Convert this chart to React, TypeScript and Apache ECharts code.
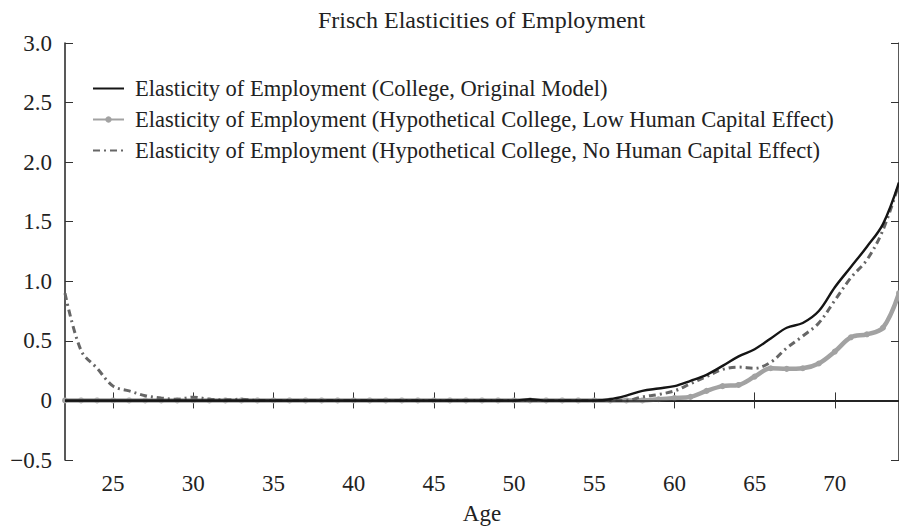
import React, { useEffect, useRef } from "react";
import * as echarts from "echarts";

const ages = [22, 23, 24, 25, 26, 27, 28, 29, 30, 31, 32, 33, 34, 35, 36, 37, 38, 39, 40, 41, 42, 43, 44, 45, 46, 47, 48, 49, 50, 51, 52, 53, 54, 55, 56, 57, 58, 59, 60, 61, 62, 63, 64, 65, 66, 67, 68, 69, 70, 71, 72, 73, 74];

const collegeOriginal = [0, 0, 0, 0, 0, 0, 0, 0, 0, 0, 0, 0, 0, 0, 0, 0, 0, 0, 0, 0, 0, 0, 0, 0, 0, 0, 0, 0, 0, 0.01, 0, 0, 0, 0, 0.01, 0.04, 0.08, 0.1, 0.12, 0.165, 0.215, 0.29, 0.37, 0.43, 0.52, 0.61, 0.65, 0.75, 0.95, 1.12, 1.29, 1.48, 1.83];

const lowHumanCapital = [0, 0, 0, 0, 0, 0, 0, 0, 0, 0, 0, 0, 0, 0, 0, 0, 0, 0, 0, 0, 0, 0, 0, 0, 0, 0, 0, 0, 0, 0, 0, 0, 0, 0, 0, 0, 0, 0.01, 0.02, 0.03, 0.08, 0.12, 0.13, 0.2, 0.27, 0.265, 0.27, 0.31, 0.41, 0.53, 0.555, 0.61, 0.9];

const noHumanCapital = [0.9, 0.42, 0.27, 0.12, 0.08, 0.04, 0.02, 0.01, 0.027, 0.01, 0.005, 0.01, 0, 0, 0, 0, 0, 0, 0, 0, 0, 0, 0, 0, 0, 0, 0, 0, 0, 0, 0, 0, 0, 0, 0, 0, 0.03, 0.05, 0.08, 0.14, 0.2, 0.26, 0.28, 0.27, 0.32, 0.44, 0.54, 0.65, 0.84, 1.03, 1.18, 1.43, 1.82];

const xTicks = [25, 30, 35, 40, 45, 50, 55, 60, 65, 70];

const seriesNames = [
  "Elasticity of Employment (College, Original Model)",
  "Elasticity of Employment (Hypothetical College, Low Human Capital Effect)",
  "Elasticity of Employment (Hypothetical College, No Human Capital Effect)",
];

const FONT = "'Liberation Serif', 'Times New Roman', serif";

export default function App() {
  const ref = useRef<HTMLDivElement>(null);

  useEffect(() => {
    if (!ref.current) return;
    const chart = echarts.init(ref.current, undefined, { renderer: "svg" });
    const pair = (vals: number[]) => ages.map((a, i) => [a, vals[i]]);
    const axisLine = { show: true, lineStyle: { color: "#222", width: 1.5 } };
    const tick = { show: true, inside: true, length: 8, lineStyle: { color: "#333", width: 1 } };

    chart.setOption({
      animation: false,
      backgroundColor: "#fff",
      title: {
        text: "Frisch Elasticities of Employment",
        left: 318,
        top: 8,
        padding: 0,
        textStyle: { fontFamily: FONT, fontSize: 24, fontWeight: "normal", color: "#222" },
      },
      legend: {
        left: 92,
        top: 77,
        orient: "vertical",
        itemWidth: 31,
        itemHeight: 8,
        itemGap: 8,
        padding: 0,
        data: [
          { name: seriesNames[0], itemStyle: { opacity: 0 } },
          { name: seriesNames[1] },
          { name: seriesNames[2], itemStyle: { opacity: 0 } },
        ],
        textStyle: { fontFamily: FONT, fontSize: 22.5, color: "#222", padding: [0, 0, 0, 6] },
      },
      grid: { left: 65, right: -4, top: 43, bottom: 66, containLabel: false },
      xAxis: [
        {
          type: "value",
          min: 22,
          max: 74,
          position: "bottom",
          name: "Age",
          nameLocation: "middle",
          nameGap: 42,
          nameTextStyle: { fontFamily: FONT, fontSize: 23, color: "#222" },
          axisLine,
          axisTick: { ...tick, customValues: xTicks },
          axisLabel: {
            customValues: xTicks,
            margin: 12,
            fontFamily: FONT,
            fontSize: 23,
            color: "#222",
          },
          splitLine: { show: false },
        },
        {
          type: "value",
          min: 22,
          max: 74,
          position: "top",
          axisLine,
          axisTick: { ...tick, customValues: xTicks },
          axisLabel: { show: false },
          splitLine: { show: false },
        },
      ],
      yAxis: [
        {
          type: "value",
          min: -0.5,
          max: 3,
          interval: 0.5,
          position: "left",
          axisLine,
          axisTick: tick,
          axisLabel: {
            margin: 13,
            fontFamily: FONT,
            fontSize: 23,
            color: "#222",
            formatter: (v: number) => (v === 0 ? "0" : v < 0 ? "\u2212" + Math.abs(v).toFixed(1) : v.toFixed(1)),
          },
          splitLine: { show: false },
        },
        {
          type: "value",
          min: -0.5,
          max: 3,
          interval: 0.5,
          position: "right",
          axisLine,
          axisTick: tick,
          axisLabel: { show: false },
          splitLine: { show: false },
        },
      ],
      series: [
        {
          name: seriesNames[0],
          type: "line",
          data: pair(collegeOriginal),
          smooth: 0.35,
          symbol: "none",
          z: 5,
          lineStyle: { color: "#151515", width: 2.4 },
          itemStyle: { color: "#151515" },
          markLine: {
            silent: true,
            symbol: "none",
            label: { show: false },
            lineStyle: { color: "#222", width: 1.5, type: "solid" },
            data: [{ yAxis: 0 }],
          },
        },
        {
          name: seriesNames[1],
          type: "line",
          data: pair(lowHumanCapital),
          smooth: 0.35,
          symbol: "circle",
          symbolSize: 6,
          z: 3,
          lineStyle: { color: "#a2a2a2", width: 4.5 },
          itemStyle: { color: "#a2a2a2" },
        },
        {
          name: seriesNames[2],
          type: "line",
          data: pair(noHumanCapital),
          smooth: 0.35,
          symbol: "none",
          z: 4,
          lineStyle: { color: "#666", width: 3, type: [7, 4, 2, 4] },
          itemStyle: { color: "#666" },
        },
      ],
    });
    return () => chart.dispose();
  }, []);

  return (
    <div
      ref={ref}
      style={{ position: "fixed", left: 0, top: 0, width: 899, height: 530, background: "#fff" }}
    />
  );
}
